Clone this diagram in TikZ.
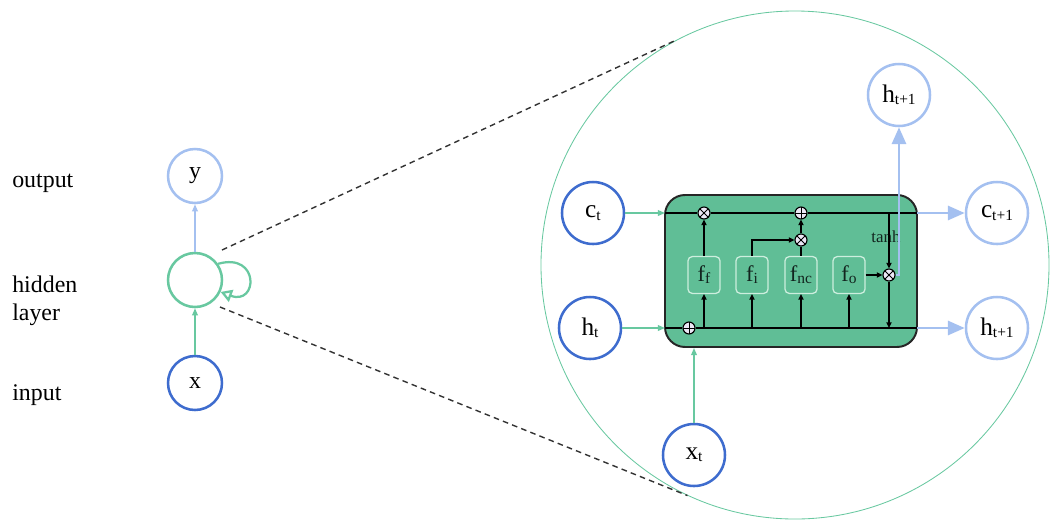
\documentclass[tikz,border=0pt]{standalone}
\usepackage{fontspec}
\setmainfont{Liberation Serif}
\usetikzlibrary{arrows.meta}

\definecolor{deepblue}{RGB}{62,108,206}
\definecolor{paleblue}{RGB}{164,192,240}
\definecolor{mint}{RGB}{104,200,160}
\definecolor{cellgreen}{RGB}{96,190,150}
\definecolor{gateline}{RGB}{205,238,222}
\definecolor{gatetext}{RGB}{18,36,30}
\definecolor{opfill}{RGB}{236,232,246}

% letter with a small, slightly lowered index
\newcommand{\lbl}[2]{#1\raisebox{-.2ex}{\fontsize{11}{12}\selectfont #2}}

\begin{document}
\begin{tikzpicture}[x=0.25mm,y=0.25mm,
  every node/.style={font=\fontsize{17}{20}\selectfont},
  unit/.style={circle,draw,line width=1.8pt,minimum size=1.35cm,inner sep=0pt},
  state/.style={circle,draw,line width=1.8pt,minimum size=1.55cm,inner sep=0pt,
    font=\fontsize{18}{20}\selectfont},
  cell/.style={draw=black!85,fill=cellgreen,line width=1.4pt,rounded corners=0.5cm,
    minimum width=6.3cm,minimum height=3.8cm},
  gate/.style={draw=gateline,fill=cellgreen,line width=0.9pt,rounded corners=3pt,
    minimum width=0.8cm,minimum height=0.92cm,inner sep=0pt,text=gatetext,
    font=\fontsize{16}{18}\selectfont},
  op/.style={circle,draw=black,fill=opfill,line width=0.8pt,minimum size=0.3cm,inner sep=0pt},
  times/.style={op,path picture={\draw[line width=0.6pt]
    (path picture bounding box.north west) -- (path picture bounding box.south east)
    (path picture bounding box.north east) -- (path picture bounding box.south west);}},
  plus/.style={op,path picture={\draw[line width=0.6pt]
    (path picture bounding box.north) -- (path picture bounding box.south)
    (path picture bounding box.west) -- (path picture bounding box.east);}},
  wire/.style={black,line width=1pt},
  tip/.style={wire,-{Triangle[length=4pt,width=3.6pt]}},
  feed/.style={mint,line width=1pt,-{Triangle[length=5pt,width=4pt]}},
  emit/.style={paleblue,line width=2pt,-{Triangle[length=12pt,width=10pt]}},
  zoomline/.style={black!80,line width=1pt,dash pattern=on 4pt off 3pt}]
\useasboundingbox (0,0) rectangle (1052,-520);

% folded network
\node[anchor=base west,inner sep=0pt] (lout) at (12,-187) {output};
\node[anchor=base west,inner sep=0pt] (lhid) at (12,-292) {hidden};
\node[anchor=base west,inner sep=0pt] (llay) at (12,-320) {layer};
\node[anchor=base west,inner sep=0pt] (lin) at (12,-400) {input};
\node[unit,draw=paleblue] (y) at (195,-176) {y};
\node[unit,draw=mint] (hid) at (195,-280) {};
\node[unit,draw=deepblue] (x) at (195,-383) {x};
\draw[paleblue,line width=1pt,-{Triangle[length=5pt,width=4pt]}] (hid) -- (y);
\draw[feed] (x) -- (hid);
\draw[mint,line width=1.6pt,-{Triangle[open,length=8pt,width=9pt]}]
  (hid.35) .. controls (260,-252) and (258,-306) .. (hid.-25);

% magnifier
\node[circle,draw=mint,line width=0.6pt,minimum size=12.7cm,inner sep=0pt] (lens) at (795,-265) {};
\coordinate (za) at (222,-250);
\coordinate (zb) at (220,-307);
\draw[zoomline] (za) -- (lens.118);
\draw[zoomline] (zb) -- (lens.245);

% LSTM cell
\node[cell] (cell) at (791,-271) {};
\coordinate (cL) at (665,-213);
\coordinate (cR) at (917,-213);
\coordinate (hL) at (665,-328);
\coordinate (hR) at (917,-328);
\coordinate (tap) at (889,-213);

\node[times] (mulF) at (704,-213) {};
\node[plus] (addC) at (801,-213) {};
\node[times] (mulI) at (801,-240) {};
\node[times] (mulO) at (889,-275) {};
\node[plus] (addH) at (689,-328) {};

\node[gate] (gf) at (704,-275) {\lbl{f}{f}};
\node[gate] (gi) at (752,-275) {\lbl{f}{i}};
\node[gate] (gnc) at (801,-275) {\lbl{f}{nc}};
\node[gate] (go) at (849,-275) {\lbl{f}{o}};
\node[font=\fontsize{12}{14}\selectfont,text=gatetext] (tanh) at (886,-237) {tanh};

\draw[wire] (cL) -- (mulF) -- (addC) -- (cR);
\draw[wire] (hL) -- (addH) -- (hR);
\foreach \g in {gf,gi,gnc,go}
  \draw[tip] (\g.south |- hL) -- (\g);
\draw[tip] (gf) -- (mulF);
\draw[tip] (gi) |- (mulI);
\draw[wire] (gnc) -- (mulI);
\draw[tip] (mulI) -- (addC);
\draw[tip] (go) -- (mulO);
\draw[tip] (tap) -- (mulO);
\draw[tip] (mulO) -- (mulO |- hL);

% states in and out
\node[state,draw=deepblue] (ct) at (593,-213) {\lbl{c}{t}};
\node[state,draw=deepblue] (ht) at (590,-328) {\lbl{h}{t}};
\node[state,draw=deepblue] (xt) at (694,-455) {\lbl{x}{t}};
\node[state,draw=paleblue] (htop) at (899,-95) {\lbl{h}{t+1}};
\node[state,draw=paleblue] (cnext) at (997,-213) {\lbl{c}{t+1}};
\node[state,draw=paleblue] (hnext) at (997,-328) {\lbl{h}{t+1}};

\draw[feed] (ct) -- (cL);
\draw[feed] (ht) -- (hL);
\draw[feed] (xt) -- (xt |- cell.south);
\draw[emit] (cR) -- (cnext);
\draw[emit] (hR) -- (hnext);
\draw[emit] (mulO) -| (htop);
\end{tikzpicture}
\end{document}
